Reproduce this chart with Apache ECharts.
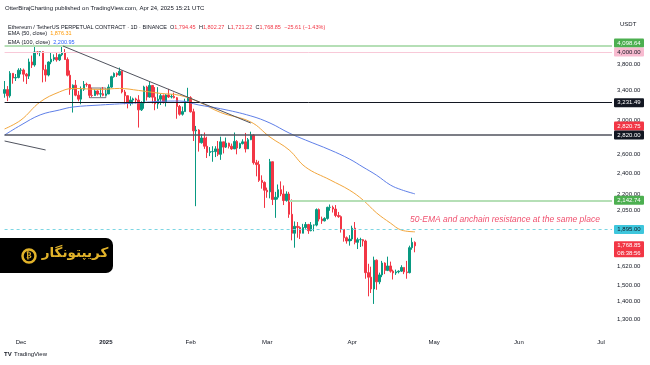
<!DOCTYPE html>
<html><head><meta charset="utf-8">
<script src="https://cdn.jsdelivr.net/npm/echarts@6/dist/echarts.min.js"></script>
<style>html,body{margin:0;padding:0;background:#fff}#c{width:650px;height:365px}</style>
</head><body><div id="c"></div>
<script>
// ---- data (daily candles, Nov 25 2024 -> Apr 24 2025) ----
const firstDay = '2024-11-25';
const opens = [
 3361,3414,3326,3656,3585,3592,
 3705,3707,3643,3614,3836,3787,4000,3996,4005,3712,3630,3834,3880,3907,3870,3955,3987,3875,3627,3420,3478,3335,3280,3420,3490,3485,3333,3330,3395,3350,3355,
 3333,3352,3450,3605,3655,3630,3688,3380,3327,3220,3267,3283,3268,3135,3226,3452,3309,3474,3307,3215,3280,3328,3240,3338,3310,3318,3300,3180,3078,3112,3250,
 3300,3110,2870,2880,2730,2785,2690,2620,2630,2630,2660,2600,2740,2680,2725,2690,2660,2745,2670,2720,2740,2660,2765,2820,2510,2490,2330,2310,
 2235,2220,2520,2150,2170,2240,2200,2140,2200,2020,1865,1920,1910,1865,1910,1935,1885,1930,1930,2060,1980,1965,1985,2080,2080,2065,2010,2000,1895,1830,1805,
 1820,1905,1795,1815,1815,1805,1580,1550,1475,1665,1520,1565,1645,1595,1625,1590,1578,1585,1590,1615,1585,1580,1755,1794.45];
const highs = [
 3540,3465,3690,3660,3646,3735,
 3738,3730,3660,3890,3940,4090,4010,4010,4010,3790,3845,3990,3960,3995,3970,4107,4050,3910,3700,3490,3555,3395,3460,3540,3515,3495,3440,3418,3405,3430,3452,
 3410,3490,3620,3670,3670,3745,3700,3410,3330,3320,3300,3300,3335,3250,3470,3470,3525,3480,3450,3450,3355,3345,3350,3425,3350,3370,3310,3200,3178,3285,3440,
 3320,3150,2930,2890,2830,2850,2800,2680,2690,2690,2750,2800,2740,2790,2730,2720,2850,2760,2730,2770,2845,2785,2860,2830,2540,2530,2380,2320,
 2260,2550,2520,2220,2290,2320,2280,2225,2220,2150,1960,1955,1920,1940,1955,1940,1955,1935,2070,2070,2000,1995,2085,2105,2095,2100,2040,2010,1895,1840,1850,
 1925,1955,1830,1830,1820,1815,1640,1620,1690,1670,1580,1660,1650,1690,1655,1600,1600,1595,1630,1615,1660,1770,1830,1802.27];
const lows = [
 3300,3252,3300,3500,3540,3580,
 3640,3530,3495,3570,3740,3760,3960,3930,3520,3530,3610,3800,3848,3840,3850,3930,3870,3610,3340,3100,3320,3250,3210,3395,3455,3300,3310,3325,3330,3310,3320,
 3330,3350,3440,3590,3600,3620,3360,3210,3155,3190,3210,3220,2910,3120,3150,3260,3300,3220,3130,3150,3200,3220,3180,3295,3290,3290,3020,3060,3060,3110,3240,
 3100,2750,2090,2630,2720,2660,2560,2580,2520,2570,2580,2540,2610,2670,2665,2650,2660,2600,2660,2710,2620,2660,2760,2490,2370,2315,2250,2075,
 2165,2160,2100,1990,2150,2180,2100,2130,1990,1810,1755,1830,1820,1865,1900,1860,1880,1880,1920,1960,1940,1960,1975,2050,2035,1995,1990,1870,1800,1785,1770,
 1805,1780,1745,1760,1765,1540,1430,1450,1385,1470,1505,1550,1570,1590,1580,1535,1565,1575,1585,1570,1540,1575,1740,1721.22];
const closes = [
 3414,3326,3656,3585,3592,3705,
 3707,3643,3614,3836,3787,4000,3996,4005,3712,3630,3834,3880,3907,3870,3955,3987,3875,3627,3420,3478,3335,3280,3420,3490,3485,3333,3330,3395,3350,3355,3333,
 3352,3450,3605,3655,3630,3688,3380,3327,3220,3267,3283,3268,3135,3226,3452,3309,3474,3307,3215,3280,3328,3240,3338,3310,3318,3300,3180,3078,3112,3250,3300,
 3110,2870,2880,2730,2785,2690,2620,2630,2630,2660,2600,2740,2680,2725,2690,2660,2745,2670,2720,2740,2660,2765,2820,2510,2490,2330,2310,2235,
 2220,2520,2150,2170,2240,2200,2140,2200,2020,1865,1920,1910,1865,1910,1935,1885,1930,1930,2060,1980,1965,1985,2080,2080,2065,2010,2000,1895,1830,1805,1820,
 1905,1795,1815,1815,1805,1580,1550,1475,1665,1520,1565,1645,1595,1625,1590,1578,1585,1590,1615,1585,1580,1755,1795,1768.85];

// EMA values
const emaDates  = ['2024-11-25','2024-12-01','2024-12-08','2024-12-15','2024-12-20','2024-12-30','2025-01-06','2025-01-13','2025-01-21','2025-01-28','2025-02-04','2025-02-12','2025-02-23','2025-03-02','2025-03-09','2025-03-15','2025-03-24','2025-03-31','2025-04-05','2025-04-10','2025-04-15','2025-04-19','2025-04-24'];
const ema50Vals = [2893,3004,3241,3380,3431,3417,3431,3402,3360,3333,3241,3100,2979,2796,2648,2464,2334,2237,2145,2031,1947,1890,1876.31];
const ema100Vals= [2820,2941,3069,3133,3173,3200,3215,3230,3250,3254,3200,3150,3056,2966,2844,2761,2648,2550,2464,2380,2285,2240,2200.95];

// axis ticks
const yTicks = [4000,3800,3400,3000,2600,2400,2200,2050,1620,1500,1400,1300];
const xTickDates = ['2024-12-01','2025-01-01','2025-02-01','2025-03-01','2025-04-01','2025-05-01','2025-06-01','2025-07-01'];
const xTickLabels = ['Dec','2025','Feb','Mar','Apr','May','Jun','Jul'];

// price badges on the right scale
const badgeValues = [4098.64,4000.00,3231.49,2820.75,2820.00,2142.74,1895.00,1768.85];
const badgeBg     = ['#4caf50','#f8bbd0','#131722','#f23645','#131722','#4caf50','#3ec6dc','#f23645'];
const badgeFg     = ['#ffffff','#131722','#ffffff','#ffffff','#ffffff','#ffffff','#131722','#ffffff'];
const badgeSub    = ['','','','','','','','08:38:56'];

// ---- build ----
const DAY = 86400000;
const t0 = Date.parse(firstDay + 'T00:00:00Z');
const candleData = opens.map((o,i)=>[t0 + i*DAY, o, closes[i], lows[i], highs[i]]);
const ts = s => Date.parse(s + 'T00:00:00Z');
const xMin = ts('2024-12-01') - 7.675*DAY;
const xMax = xMin + (612/2.736)*DAY;
const Y_MIN = 1230.6, Y_MAX = 4207;

const fmt = v => Number(v).toLocaleString('en-US',{minimumFractionDigits:2, maximumFractionDigits:2});

const chart = echarts.init(document.getElementById('c'), null, {renderer:'canvas'});
const FONT = 'Liberation Sans';

function hline(v, from, color, width, type){
  return [{coord:[from, v], lineStyle:{color, width, type}}, {coord:[xMax, v]}];
}

const option = {
  animation:false,
  backgroundColor:'#ffffff',
  textStyle:{fontFamily:FONT},
  grid:{left:0, right:38, top:40, bottom:33},
  xAxis:{type:'time', min:xMin, max:xMax,
    axisLine:{show:false}, axisTick:{show:false}, splitLine:{show:false}, axisLabel:{show:false}},
  yAxis:{type:'log', logBase:10, min:Y_MIN, max:Y_MAX, position:'right',
    axisLine:{show:false}, axisTick:{show:false}, splitLine:{show:false}, axisLabel:{show:false}},
  series:[
    {type:'candlestick', data:candleData, encode:{x:0, y:[1,2,3,4]}, barWidth:2,
     itemStyle:{color:'#089981', color0:'#f23645', borderColor:'#089981', borderColor0:'#f23645', borderWidth:1},
     markLine:{silent:true, symbol:['none','none'], label:{show:false}, animation:false,
       data:[
         hline(4098.64, ts('2024-11-25'), '#b5dfb6', 2, 'solid'),
         hline(4000.00, ts('2024-11-25'), '#f8c9d8', 1, 'solid'),
         hline(3231.49, ts('2024-11-25'), '#131722', 1, 'solid'),
         hline(2820.00, ts('2024-11-25'), '#50535e', 1.5, 'solid'),
         hline(2142.74, ts('2025-03-09'), '#b5dfb6', 2, 'solid'),
         hline(1895.00, ts('2024-11-25'), '#7dd6e3', 1, [3,3]),
         hline(1768.85, ts('2024-11-23'), '#f7a1aa', 1, [2,2]),
         [{coord:[ts('2024-12-16')+8*3600000, 4102], lineStyle:{color:'#50535e', width:1, type:'solid'}}, {coord:[ts('2025-02-23'), 2966]}],
         [{coord:[ts('2024-11-25'), 2750], lineStyle:{color:'#50535e', width:1, type:'solid'}}, {coord:[ts('2024-12-10'), 2648]}]
       ]},
     markArea:{silent:true, itemStyle:{color:'rgba(0,0,0,0)', borderColor:'#50535e', borderWidth:0.8},
       data:[[{coord:[ts('2024-12-26'), 3437]}, {coord:[ts('2025-01-01'), 3300]}]]}
    },
    {type:'line', data:emaDates.map((d,i)=>[ts(d), ema50Vals[i]]), showSymbol:false, smooth:0.4,
     lineStyle:{color:'#f2a63c', width:1}, z:3},
    {type:'line', data:emaDates.map((d,i)=>[ts(d), ema100Vals[i]]), showSymbol:false, smooth:0.4,
     lineStyle:{color:'#5f7fe8', width:1}, z:3},
    // right price-scale labels
    {type:'custom', coordinateSystem:'cartesian2d', clip:false, silent:true, z:5,
     data: yTicks.map(v=>[xMax, v]),
     renderItem:(params, api)=>{
       const p = api.coord([api.value(0), api.value(1)]);
       return {type:'text', style:{text:fmt(api.value(1)), x:p[0]+5, y:p[1], align:'left', verticalAlign:'middle', fill:'#131722', font:'6px '+FONT}};
     }},
    // bottom time-scale labels
    {type:'custom', coordinateSystem:'cartesian2d', clip:false, silent:true, z:5,
     data: xTickDates.map(d=>[ts(d), Y_MIN]),
     renderItem:(params, api)=>{
       const p = api.coord([api.value(0), api.value(1)]);
       const s = xTickLabels[params.dataIndex];
       return {type:'text', style:{text:s, x:p[0], y:p[1]+10, align:'center', verticalAlign:'middle', fill:'#131722', font:(s==='2025'?'bold ':'')+'6px '+FONT}};
     }},
    // price badges
    {type:'custom', coordinateSystem:'cartesian2d', clip:false, silent:true, z:10,
     data: badgeValues.map(v=>[xMax, v]),
     renderItem:(params, api)=>{
       const H = 9;
       const ys = badgeValues.map(v=>api.coord([xMax, v])[1]);
       const order = badgeValues.map((v,i)=>i).sort((a,b)=>badgeValues[a]-badgeValues[b]);
       const adj = ys.slice();
       let prevTop = Infinity;
       order.forEach(i=>{
         const below = badgeSub[i] ? 16 - H/2 : H/2;
         let y = ys[i];
         if (y + below > prevTop) y = prevTop - below;
         adj[i] = y;
         prevTop = y - H/2;
       });
       const i = params.dataIndex;
       const x = api.coord([xMax, badgeValues[i]])[0] + 2;
       const y = adj[i];
       const h = badgeSub[i] ? 16 : H;
       const children = [
         {type:'rect', shape:{x:x, y:y-H/2, width:30, height:h, r:1}, style:{fill:badgeBg[i]}},
         {type:'text', style:{text:fmt(badgeValues[i]), x:x+15, y:y, align:'center', verticalAlign:'middle', fill:badgeFg[i], font:'6px '+FONT}}
       ];
       if (badgeSub[i]) children.push({type:'text', style:{text:badgeSub[i], x:x+15, y:y+7.5, align:'center', verticalAlign:'middle', fill:badgeFg[i], font:'6px '+FONT}});
       return {type:'group', children};
     }}
  ],
  graphic:[
    {type:'text', left:5, top:5, style:{text:'OtterBirajCharting published on TradingView.com, Apr 24, 2025 15:21 UTC', fill:'#131722', font:'6px '+FONT}},
    {type:'text', left:8, top:21, style:{
      text:'{d|Ethereum / TetherUS PERPETUAL CONTRACT · 1D · BINANCE  O}{r|1,794.45} {d|H}{r|1,802.27} {d|L}{r|1,721.22} {d|C}{r|1,768.85} {r|−25.61 (−1.43%)}',
      rich:{d:{fill:'#131722', font:'5.5px '+FONT}, r:{fill:'#f23645', font:'5.5px '+FONT}}}},
    {type:'text', left:8, top:30, style:{text:'{d|EMA (50, close)  }{o|1,876.31}',
      rich:{d:{fill:'#131722', font:'5.5px '+FONT}, o:{fill:'#ff9800', font:'5.5px '+FONT}}}},
    {type:'text', left:8, top:39, style:{text:'{d|EMA (100, close)  }{b|2,200.95}',
      rich:{d:{fill:'#131722', font:'5.5px '+FONT}, b:{fill:'#2962ff', font:'5.5px '+FONT}}}},
    {type:'text', left:620, top:21, style:{text:'USDT', fill:'#131722', font:'6px '+FONT}},
    {type:'text', left:410, top:215, style:{text:'50-EMA and anchain resistance at the same place', fill:'#f0506e', font:'italic 8.5px '+FONT}},
    // logo
    {type:'rect', shape:{x:-6, y:238, width:119, height:35, r:7}, style:{fill:'#000000'}},
    {type:'circle', shape:{cx:29, cy:256, r:6.5}, style:{fill:'none', stroke:'#e2b32a', lineWidth:2.5}},
    {type:'text', style:{text:'₿', x:29, y:256, align:'center', verticalAlign:'middle', fill:'#e2b32a', font:'bold 8px DejaVu Sans'}},
    {type:'text', style:{text:'کریپتونگار', x:75, y:253, align:'center', verticalAlign:'middle', fill:'#e2b32a', font:'bold 13.5px DejaVu Sans'}},
    // footer
    {type:'text', left:4, top:351, style:{text:'TV', fill:'#131722', font:'bold 6px '+FONT}},
    {type:'text', left:14, top:351, style:{text:'TradingView', fill:'#131722', font:'6px '+FONT}}
  ]
};
chart.setOption(option);
</script>
</body></html>
